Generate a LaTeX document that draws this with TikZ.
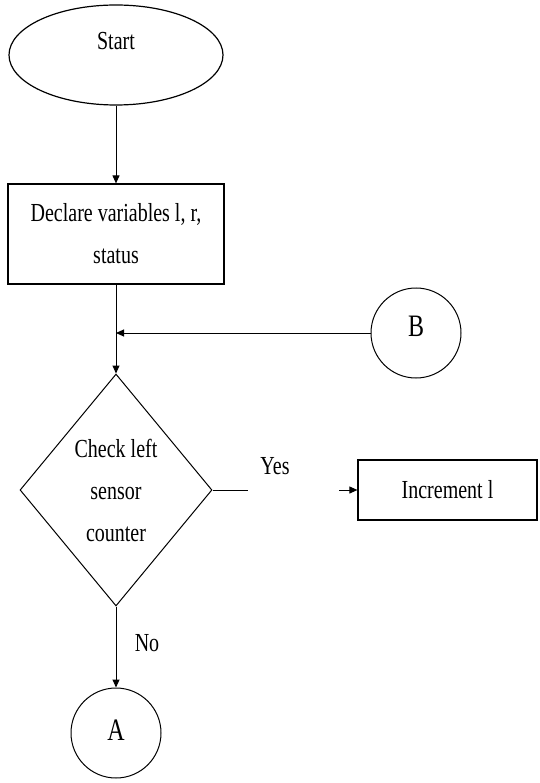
\documentclass[tikz,border=0pt]{standalone}
\usepackage{fontspec}
\setmainfont{Liberation Serif}
\usepackage{graphicx}
\usetikzlibrary{shapes.geometric,arrows.meta}
\newcommand{\stretchtxt}[1]{\scalebox{1}[1.3]{#1}}

\begin{document}
\begin{tikzpicture}[x=1pt,y=-1pt,
    every node/.style={font=\fontsize{20}{42}\selectfont,inner sep=0pt},
    flow/.style={line width=1pt},
    arr/.style={flow,-{Triangle[length=8pt,width=7pt]}},
    term/.style={draw,line width=1.2pt,ellipse,minimum width=214pt,minimum height=100pt},
    proc/.style={draw,line width=1.2pt,rectangle,align=center},
    decide/.style={draw,line width=1pt,diamond,align=center,minimum width=192pt,minimum height=232pt},
    conn/.style={draw,line width=1pt,circle,minimum size=90pt,font=\fontsize{24}{30}\selectfont}]
        \useasboundingbox (0,0) rectangle (539,783);
        % boxes of the chart
        \node[term,text height=18pt,text depth=28pt] (start) at (116,55) {\stretchtxt{Start}};
        \node[proc,minimum width=216pt,minimum height=100pt] (decl) at (116,234)
          {\stretchtxt{Declare variables l, r,}\\\stretchtxt{status}};
        \node[decide] (chk) at (116,490)
          {\stretchtxt{Check left}\\\stretchtxt{sensor}\\\stretchtxt{counter}};
        \node[proc,minimum width=179pt,minimum height=60pt] (inc) at (447.5,490) {\stretchtxt{Increment l}};
        \node[conn,text height=21pt,text depth=15pt] (B) at (416,333) {\stretchtxt{B}};
        \node[conn,text height=21pt,text depth=6pt] (A) at (116,733) {\stretchtxt{A}};
        % labels
        \node (yes) at (275,466) {\stretchtxt{Yes}};
        \node (no) at (147,643) {\stretchtxt{No}};
        % connectors
        \coordinate (join) at (116,333);
        \coordinate (yesend) at (248,490);
        \coordinate (yesstart) at (339,490);
        \draw[arr] (start) -- (decl);
        \draw[arr] (decl) -- (chk);
        \draw[arr] (B) -- (join);
        \draw[flow] (chk.east) -- (yesend);
        \draw[arr] (yesstart) -- (inc);
        \draw[arr] (chk) -- (A);
\end{tikzpicture}
\end{document}
